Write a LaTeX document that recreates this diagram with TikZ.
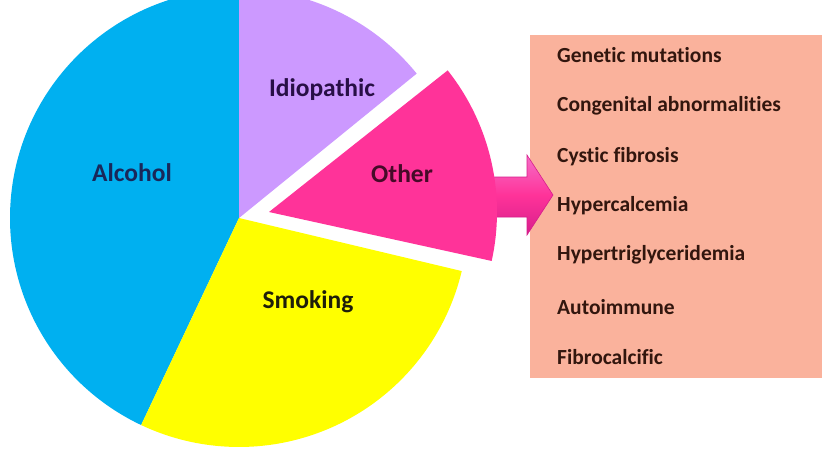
\documentclass[tikz,border=0pt]{standalone}
\usepackage{fontspec}
\setmainfont[Ligatures=NoCommon]{Carlito}
\begin{document}
\begin{tikzpicture}[x=1pt,y=-1pt,
  slicelbl/.style={font=\bfseries\fontsize{25.5}{30}\selectfont},
  itemlbl/.style={font=\bfseries\fontsize{21.5}{26}\selectfont, text=listtxt, anchor=west, inner sep=0pt}]
\definecolor{alc}{RGB}{0,176,240}
\definecolor{idio}{RGB}{204,153,255}
\definecolor{oth}{RGB}{255,51,153}
\definecolor{smk}{RGB}{255,255,0}
\definecolor{boxc}{RGB}{250,178,156}
\definecolor{listtxt}{RGB}{50,22,14}
\definecolor{arrtop}{RGB}{245,110,200}
\definecolor{arrbot}{RGB}{215,30,140}
\useasboundingbox (0,0) rectangle (823,450);
\fill[white] (0,0) rectangle (823,450);
% list box
\fill[boxc] (530,35) rectangle (822,378);
\node[itemlbl] (i1) at (557,55) {Genetic mutations};
\node[itemlbl] (i2) at (557,106) {Congenital abnormalities};
\node[itemlbl] (i3) at (557,157) {Cystic fibrosis};
\node[itemlbl] (i5) at (557,255) {Hypertriglyceridemia};
\node[itemlbl] (i6) at (557,307) {Autoimmune};
\node[itemlbl] (i7) at (557,357) {Fibrocalcific};
% arrow
\shade[top color=arrtop, bottom color=arrbot, middle color=oth, draw=arrbot, line width=0.6pt]
  (493,177) -- (527,177) -- (527,155) -- (553,195) -- (527,235) -- (527,217) -- (493,217) -- cycle;
\node[itemlbl] (i4) at (557,206) {Hypercalcemia};
% pie
\coordinate (C) at (239,218);
\coordinate (C2) at (269,212);
\fill[alc] (C) -- ++(-90:229) arc[start angle=-90, end angle=-244.7, radius=229] -- cycle;
\fill[idio] (C) -- ++(-39.1:229) arc[start angle=-39.1, end angle=-90, radius=229] -- cycle;
\fill[smk] (C) -- ++(13.4:229) arc[start angle=13.4, end angle=115.3, radius=229] -- cycle;
\fill[oth] (C2) -- ++(-38.4:228) arc[start angle=-38.4, end angle=12.4, radius=228] -- cycle;
\node[slicelbl, text={rgb,255:red,25;green,40;blue,90}] (alcohol) at (132,173) {Alcohol};
\node[slicelbl, text={rgb,255:red,40;green,15;blue,70}] (idiopathic) at (322,90) {Idiopathic};
\node[slicelbl, text={rgb,255:red,70;green,10;blue,40}] (other) at (402,174) {Other};
\node[slicelbl, text={rgb,255:red,30;green,30;blue,10}] (smoking) at (308,302) {Smoking};
\end{tikzpicture}
\end{document}
